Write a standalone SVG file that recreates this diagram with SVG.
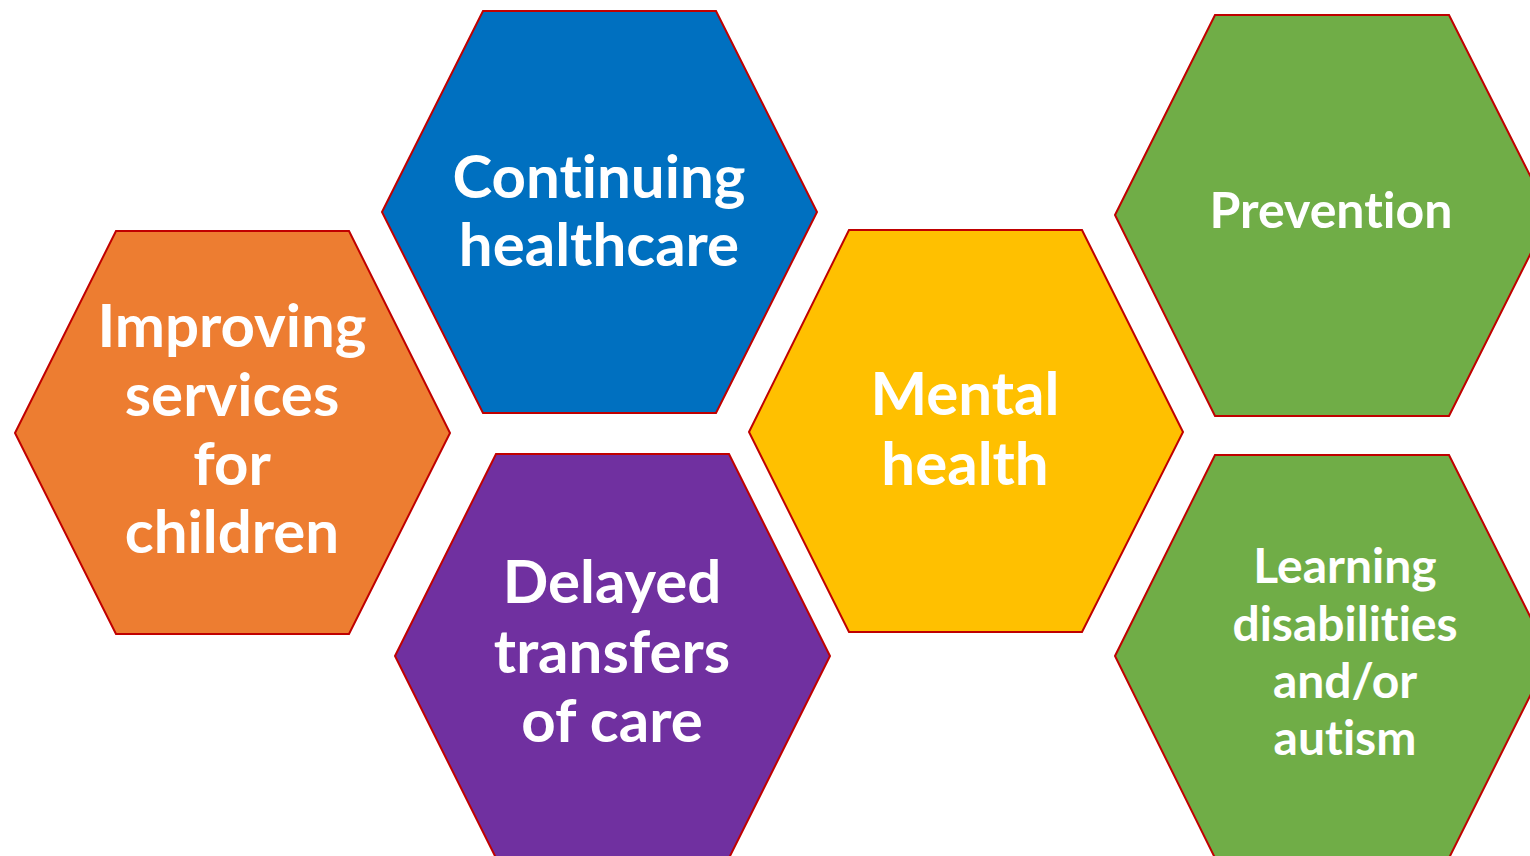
<svg xmlns="http://www.w3.org/2000/svg" width="1530" height="856" viewBox="0 0 1530 856">
<style>
.hex{stroke:#C00000;stroke-width:2;stroke-linejoin:miter}
.t{font-family:Lato,"Open Sans","Liberation Sans",sans-serif;font-weight:bold;fill:#FFFFFF;text-anchor:middle;font-variant-ligatures:none;font-feature-settings:"liga" 0,"clig" 0}
.big{font-size:60px}
.mid{font-size:50px}
.sm{font-size:48px}
</style>
<rect width="1530" height="856" fill="#FFFFFF"/>
<g id="connectors"></g>
<g id="node-children">
<polygon class="hex" fill="#ED7D31" points="15,433 116,231 349,231 450,433 349,634 116,634"/>
<text class="t big" x="232" y="347">Improving</text>
<text class="t big" x="232" y="416">services</text>
<text class="t big" x="232" y="485">for</text>
<text class="t big" x="232" y="553">children</text>
</g>
<g id="node-chc">
<polygon class="hex" fill="#0070C0" points="382,212 483,11 716,11 817,212 716,413 483,413"/>
<text class="t big" x="599" y="198">Continuing</text>
<text class="t big" x="599" y="266">healthcare</text>
</g>
<g id="node-dtoc">
<polygon class="hex" fill="#7030A0" points="395,656 496,454 729,454 830,656 729,858 496,858"/>
<text class="t big" x="612" y="603">Delayed</text>
<text class="t big" x="612" y="673">transfers</text>
<text class="t big" x="612" y="742">of care</text>
</g>
<g id="node-mh">
<polygon class="hex" fill="#FFC000" points="749,432 849,230 1082,230 1183,432 1082,632 849,632"/>
<text class="t big" x="965" y="415">Mental</text>
<text class="t big" x="965" y="485">health</text>
</g>
<g id="node-prevention">
<polygon class="hex" fill="#70AD47" points="1115,215 1215,15 1449,15 1550,215 1449,416 1215,416"/>
<text class="t mid" x="1331" y="228">Prevention</text>
</g>
<g id="node-ld">
<polygon class="hex" fill="#70AD47" points="1115,656 1215,455 1449,455 1550,656 1449,858 1215,858"/>
<text class="t sm" x="1345" y="583">Learning</text>
<text class="t sm" x="1345" y="641">disabilities</text>
<text class="t sm" x="1345" y="698">and/or</text>
<text class="t sm" x="1345" y="755">autism</text>
</g>
</svg>
